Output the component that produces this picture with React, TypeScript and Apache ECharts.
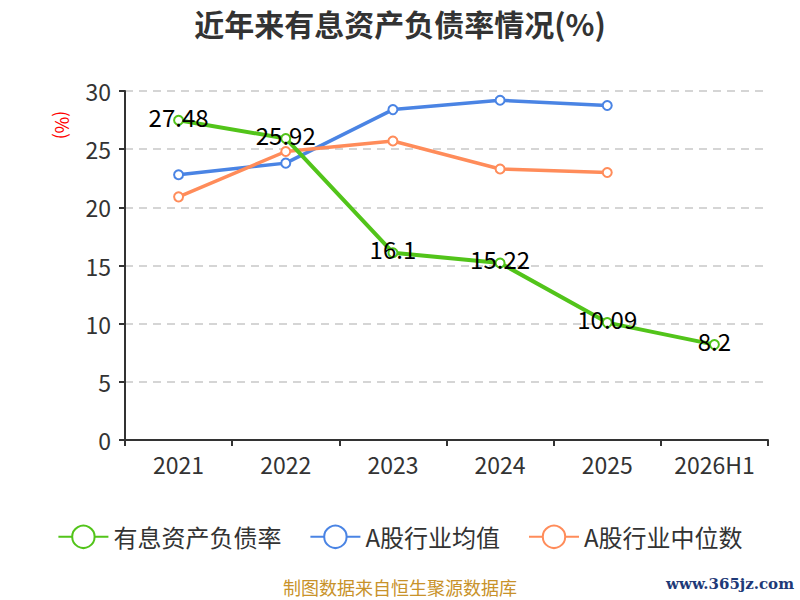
import React, { useEffect, useRef } from "react";
import * as echarts from "echarts";

const categories = ["2021", "2022", "2023", "2024", "2025", "2026H1"];
const debtRatio = [27.48, 25.92, 16.1, 15.22, 10.09, 8.2];
const industryAvg = [22.8, 23.8, 28.4, 29.2, 28.75, null];
const industryMedian = [20.9, 24.8, 25.7, 23.3, 23.0, null];
const yTicks = [0, 5, 10, 15, 20, 25, 30];

const FONT = "'Noto Sans CJK SC', 'Noto Sans', sans-serif";

export default function App() {
  const ref = useRef<HTMLDivElement>(null);
  useEffect(() => {
    document.body.style.margin = "0";
    const chart = echarts.init(ref.current!, null, { renderer: "svg" });
    const lineSeries = (name: string, data: (number | null)[], color: string, width: number, z: number) => ({
      name,
      type: "line",
      data,
      z,
      symbol: "emptyCircle",
      symbolSize: 9,
      itemStyle: { color, borderColor: color, borderWidth: 2 },
      lineStyle: { color, width },
      emphasis: { disabled: true },
    });
    chart.setOption({
      animation: false,
      backgroundColor: "#fff",
      textStyle: { fontFamily: FONT },
      title: {
        text: "近年来有息资产负债率情况(%)",
        left: "center",
        top: 3,
        textStyle: { fontSize: 30, fontWeight: "bold", color: "#333", fontFamily: FONT },
      },
      grid: { left: 125, right: 32, top: 91, bottom: 160 },
      legend: {
        bottom: 46,
        left: "center",
        itemWidth: 50,
        itemHeight: 28,
        itemGap: 28,
        textStyle: { fontSize: 24, color: "#333", fontFamily: FONT },
        data: ["有息资产负债率", "A股行业均值", "A股行业中位数"],
      },
      xAxis: {
        type: "category",
        data: categories,
        axisLine: { lineStyle: { color: "#333", width: 2 } },
        axisTick: { show: true, length: 6, lineStyle: { color: "#333", width: 2 } },
        axisLabel: { fontSize: 23, color: "#333", margin: 12 },
      },
      yAxis: {
        type: "value",
        min: yTicks[0],
        max: yTicks[yTicks.length - 1],
        interval: 5,
        axisLine: { show: true, lineStyle: { color: "#333", width: 2 } },
        axisTick: { show: true, length: 6, lineStyle: { color: "#333", width: 2 } },
        axisLabel: { fontSize: 23, color: "#333", margin: 14 },
        splitLine: { lineStyle: { color: "#c8c8c8", type: [8, 6], width: 1.5 } },
      },
      graphic: [
        {
          type: "text",
          x: 63,
          y: 125,
          rotation: -Math.PI / 2,
          style: {
            text: "(%)",
            fill: "#ff0000",
            fontSize: 18,
            fontFamily: FONT,
            align: "center",
            verticalAlign: "middle",
          },
        },
        {
          type: "text",
          left: "center",
          top: 578,
          style: { text: "制图数据来自恒生聚源数据库", fill: "#c8922a", fontSize: 18, fontFamily: FONT },
        },
        {
          type: "text",
          right: 6,
          top: 576,
          style: {
            text: "www.365jz.com",
            fill: "#1e3a78",
            fontSize: 15,
            fontWeight: "bold",
            fontFamily: "'DejaVu Serif', serif",
          },
        },
      ],
      series: [
        {
          ...lineSeries("有息资产负债率", debtRatio, "#52c41a", 4, 3),
          label: {
            show: true,
            position: "inside",
            offset: [0, -4],
            fontSize: 24,
            color: "#000",
            fontFamily: FONT,
          },
        },
        lineSeries("A股行业均值", industryAvg, "#4a84e4", 3.5, 2),
        lineSeries("A股行业中位数", industryMedian, "#ff8c5a", 3.5, 2),
      ],
    });
    return () => chart.dispose();
  }, []);
  return (
    <div
      ref={ref}
      style={{ position: "absolute", left: 0, top: 0, width: 800, height: 600 }}
    />
  );
}
